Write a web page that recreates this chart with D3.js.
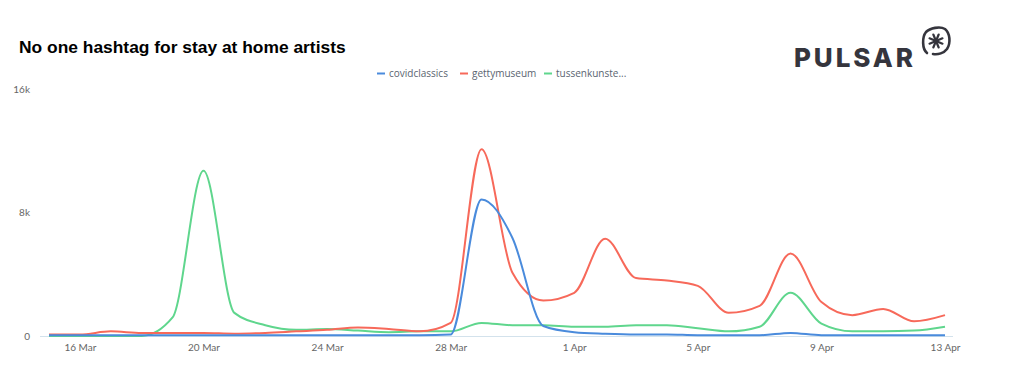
<!DOCTYPE html>
<html>
<head>
<meta charset="utf-8">
<script src="https://cdn.jsdelivr.net/npm/d3@7"></script>
<style>
  body { margin: 0; background: #fff; }
  svg { display: block; }
</style>
</head>
<body>
<svg id="chart"></svg>
<script>
const dates = d3.timeDay.range(new Date(2020, 2, 15), new Date(2020, 3, 14));
const seriesNames = ['covidclassics', 'gettymuseum', 'tussenkunste...'];
const covidclassics = [50, 50, 50, 50, 50, 50, 50, 50, 50, 50, 50, 50, 50, 100,
  8850, 6350, 650, 250, 150, 100, 100, 50, 50, 50, 200, 50, 50, 50, 50, 50];
const gettymuseum = [100, 100, 300, 200, 200, 200, 150, 200, 300, 400, 550, 450, 300, 850,
  12100, 4100, 2300, 2800, 6300, 3750, 3600, 3250, 1500, 1950, 5350, 2200, 1350, 1750, 950, 1350];
const tussenkunste = [0, 0, 0, 0, 1200, 10700, 1500, 700, 400, 450, 350, 250, 300, 300,
  850, 700, 700, 600, 600, 700, 700, 500, 300, 600, 2800, 800, 300, 300, 350, 600];
const colors = ['#4a8bdc', '#f7695a', '#5fd68d'];
const yTicks = [0, 8000, 16000];
const xTickDates = [new Date(2020, 2, 16), new Date(2020, 2, 20), new Date(2020, 2, 24),
  new Date(2020, 2, 28), new Date(2020, 3, 1), new Date(2020, 3, 5), new Date(2020, 3, 9),
  new Date(2020, 3, 13)];

const w = 1024, h = 387;
const svg = d3.select('#chart').attr('width', w).attr('height', h);

const x = d3.scaleTime()
  .domain([dates[0], dates[dates.length - 1]])
  .range([49, 945]);
const y = d3.scaleLinear().domain([0, 16000]).range([336, 89]);

// title
svg.append('text')
  .attr('x', 19).attr('y', 53)
  .style('font-family', 'Liberation Sans, Arial, sans-serif')
  .style('font-weight', 'bold')
  .style('font-size', '17.4px')
  .style('fill', '#000')
  .text('No one hashtag for stay at home artists');

// logo
svg.append('text')
  .attr('x', 794).attr('y', 67)
  .style('font-family', 'Inter, sans-serif')
  .style('font-weight', 800)
  .style('font-size', '26px')
  .style('letter-spacing', '2.9px')
  .style('fill', '#35353d')
  .text('PULSAR');
const logo = svg.append('g').attr('transform', 'translate(936,41)')
  .style('stroke', '#35353d').style('fill', 'none').style('stroke-linecap', 'round');
logo.append('path')
  .attr('d', 'M-9,12 C-14,8 -14,-4 -10,-9 C-6,-13 4,-15 9,-12 C14,-8 15,2 11,8 C8,12 2,14 -3,13')
  .attr('stroke-width', 2.6);
d3.range(8).forEach(k => {
  const a = k * Math.PI / 4 + Math.PI / 8;
  logo.append('line')
    .attr('x1', 0).attr('y1', 0)
    .attr('x2', 7 * Math.cos(a)).attr('y2', 7 * Math.sin(a))
    .attr('stroke-width', 2.2);
});

// legend
const legendX = [377, 460, 544];
const legend = svg.append('g');
seriesNames.forEach((name, i) => {
  legend.append('line')
    .attr('x1', legendX[i]).attr('x2', legendX[i] + 8)
    .attr('y1', 73.5).attr('y2', 73.5)
    .attr('stroke', colors[i]).attr('stroke-width', 2);
  legend.append('text')
    .attr('x', legendX[i] + 12).attr('y', 77)
    .style('font-family', 'Open Sans, sans-serif')
    .style('font-size', '10px')
    .style('fill', '#5a6470')
    .text(name);
});

// y axis labels
svg.append('g')
  .attr('transform', 'translate(30,0)')
  .call(d3.axisLeft(y).tickValues(yTicks).tickSize(0).tickPadding(0)
    .tickFormat(d => d === 0 ? '0' : d / 1000 + 'k'))
  .call(g => g.select('.domain').remove())
  .call(g => g.selectAll('text')
    .style('font-family', 'Lato, sans-serif')
    .style('font-size', '10px')
    .style('fill', '#666'));

// x axis
svg.append('line')
  .attr('x1', 40).attr('x2', 953)
  .attr('y1', y(0) + 0.5).attr('y2', y(0) + 0.5)
  .attr('stroke', '#d3e2ec').attr('stroke-width', 1);

svg.append('g')
  .attr('transform', `translate(0,${y(0)})`)
  .call(d3.axisBottom(x).tickValues(xTickDates).tickSize(0).tickPadding(8)
    .tickFormat(d3.timeFormat('%-d %b')))
  .call(g => g.select('.domain').remove())
  .call(g => g.selectAll('text')
    .style('font-family', 'Lato, sans-serif')
    .style('font-size', '10px')
    .style('fill', '#666'));

// lines
const line = d3.line()
  .x((d, i) => x(dates[i]))
  .y(d => y(d))
  .curve(d3.curveMonotoneX);

const series = [tussenkunste, gettymuseum, covidclassics];
const seriesColors = [colors[2], colors[1], colors[0]];
svg.selectAll('path.series')
  .data(series)
  .enter()
  .append('path')
  .attr('class', 'series')
  .attr('d', d => line(d))
  .attr('fill', 'none')
  .attr('stroke', (d, i) => seriesColors[i])
  .attr('stroke-width', 2);
</script>
</body>
</html>
